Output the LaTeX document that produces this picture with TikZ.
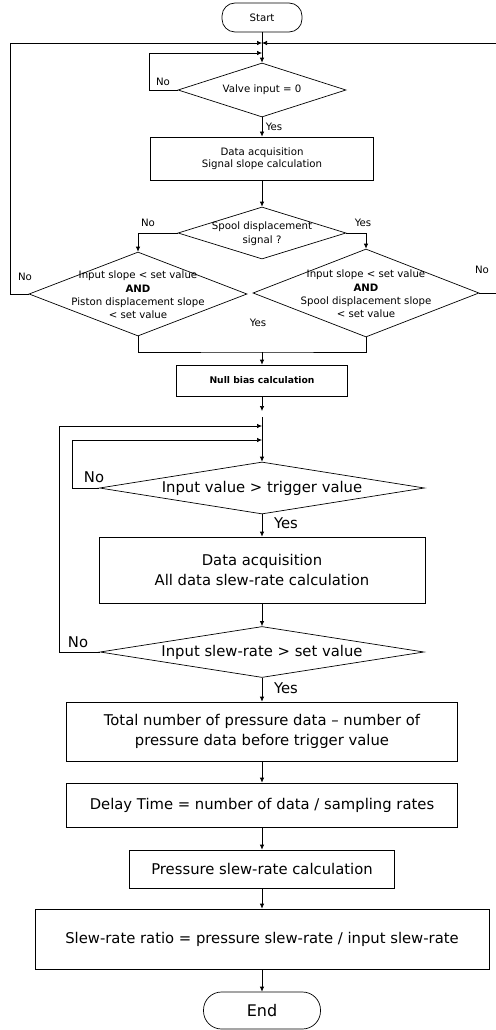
\documentclass[tikz,border=0pt]{standalone}
\usepackage{fontspec}
\setmainfont{DejaVu Sans}
\usetikzlibrary{arrows.meta,shapes.geometric}

\begin{document}
\begin{tikzpicture}[x=1pt,y=-1pt,line width=0.7pt,
        arr/.style={-{Latex[length=5pt,width=4.5pt]}},
        box/.style={draw,rectangle,inner sep=0pt},
        term/.style={draw,rectangle,rounded corners=13pt,inner sep=0pt},
        dec/.style={draw,diamond,inner sep=0pt,shape aspect=3},
        sml/.style={font=\fontsize{10.2}{12.5}\selectfont,align=center},
        cnd/.style={font=\fontsize{10.2}{13.3}\selectfont,align=center},
        lrg/.style={font=\fontsize{14.8}{20}\selectfont,align=center}]
        \useasboundingbox (0,0) rectangle (495,1030);

        \node[term,sml,minimum width=80pt,minimum height=29pt] (start) at (262,17.5) {Start};
        \coordinate (j1) at (262,43);
        \coordinate (j2) at (262,53);
        \node[dec,minimum width=168pt,minimum height=54pt] (valve) at (262,90) {};
        \node[sml] (valvet) at (valve) {Valve input = 0};
        \node[box,sml,minimum width=223pt,minimum height=43pt] (acq1) at (262,158.5) {Data acquisition\\Signal slope calculation};
        \node[dec,minimum width=168pt,minimum height=52pt] (spool) at (262,233) {};
        \node[sml,font=\fontsize{10.2}{14}\selectfont] (spoolt) at (262,234) {Spool displacement\\signal ?};
        \node[dec,minimum width=218pt,minimum height=84pt] (condl) at (138,294) {};
        \node[cnd] (condlt) at (138,295) {Input slope < set value\\\textbf{AND}\\Piston displacement slope\\< set value};
        \node[dec,minimum width=226pt,minimum height=88pt] (condr) at (366,293) {};
        \node[cnd] (condrt) at (366,294) {Input slope < set value\\\textbf{AND}\\Spool displacement slope\\< set value};
        \coordinate (j3) at (262,352);
        \node[box,font=\bfseries\fontsize{9.2}{11}\selectfont,minimum width=171pt,minimum height=31pt] (nullb) at (262,380.5) {Null bias calculation};
        \coordinate (j4) at (262,411);
        \coordinate (j5) at (262,417);
        \coordinate (j6) at (262,426);
        \coordinate (j7) at (262,440);
        \node[dec,minimum width=325pt,minimum height=52pt] (trig) at (262,488) {};
        \node[lrg] (trigt) at (trig) {Input value > trigger value};
        \node[box,lrg,minimum width=326pt,minimum height=66pt] (acq2) at (262,570) {Data acquisition\\All data slew-rate calculation};
        \node[dec,minimum width=324pt,minimum height=51pt] (slew) at (262,652) {};
        \node[lrg] (slewt) at (slew) {Input slew-rate > set value};
        \node[box,lrg,minimum width=391pt,minimum height=59pt] (total) at (262,731.5) {Total number of pressure data -- number of\\pressure data before trigger value};
        \node[box,lrg,minimum width=391pt,minimum height=44pt] (delay) at (262,805) {Delay Time = number of data / sampling rates};
        \node[box,lrg,minimum width=265pt,minimum height=38pt] (press) at (262,869) {Pressure slew-rate calculation};
        \node[box,lrg,minimum width=454pt,minimum height=60pt] (ratio) at (262,939) {Slew-rate ratio = pressure slew-rate / input slew-rate};
        \node[term,font=\fontsize{16}{18}\selectfont,rounded corners=18pt,minimum width=117pt,minimum height=37pt] (stop) at (262,1010.5) {End};

        \node[sml] (no1) at (163,82) {No};
        \node[sml] (yes1) at (274,127) {Yes};
        \node[sml] (no2) at (148,223) {No};
        \node[sml] (yes2) at (363,223) {Yes};
        \node[sml] (no3) at (25,277) {No};
        \node[sml] (no4) at (482,270) {No};
        \node[sml] (yes3) at (258,323) {Yes};
        \node[lrg] (no5) at (94,477) {No};
        \node[lrg] (yes5) at (286,523) {Yes};
        \node[lrg] (no6) at (78,642) {No};
        \node[lrg] (yes6) at (286,688) {Yes};

        \draw[arr] (start) -- (valve);
        \draw[arr] (condl.west) -- ++(-18,0) |- (j1);
        \draw[arr] (condr.east) -- ++(17,0) |- (j1);
        \draw[arr] (valve.west) -- ++(-28,0) |- (j2);
        \draw[arr] (valve) -- (acq1);
        \draw[arr] (acq1) -- (spool);
        \draw[arr] (spool.west) -| (condl.north);
        \draw[arr] (spool.east) -| (condr.north);
        \draw (condl.south) |- (j3) -| (condr.south);
        \draw[arr] (j3) -- (nullb);
        \draw[arr] (nullb) -- (j4);
        \draw[arr] (j5) -- (trig);
        \draw[arr] (trig.west) -- ++(-27,0) |- (j7);
        \draw[arr] (slew.west) -- ++(-40,0) |- (j6);
        \draw[arr] (trig) -- (acq2);
        \draw[arr] (acq2) -- (slew);
        \draw[arr] (slew) -- (total);
        \draw[arr] (total) -- (delay);
        \draw[arr] (delay) -- (press);
        \draw[arr] (press) -- (ratio);
        \draw[arr] (ratio) -- (stop);
\end{tikzpicture}
\end{document}
